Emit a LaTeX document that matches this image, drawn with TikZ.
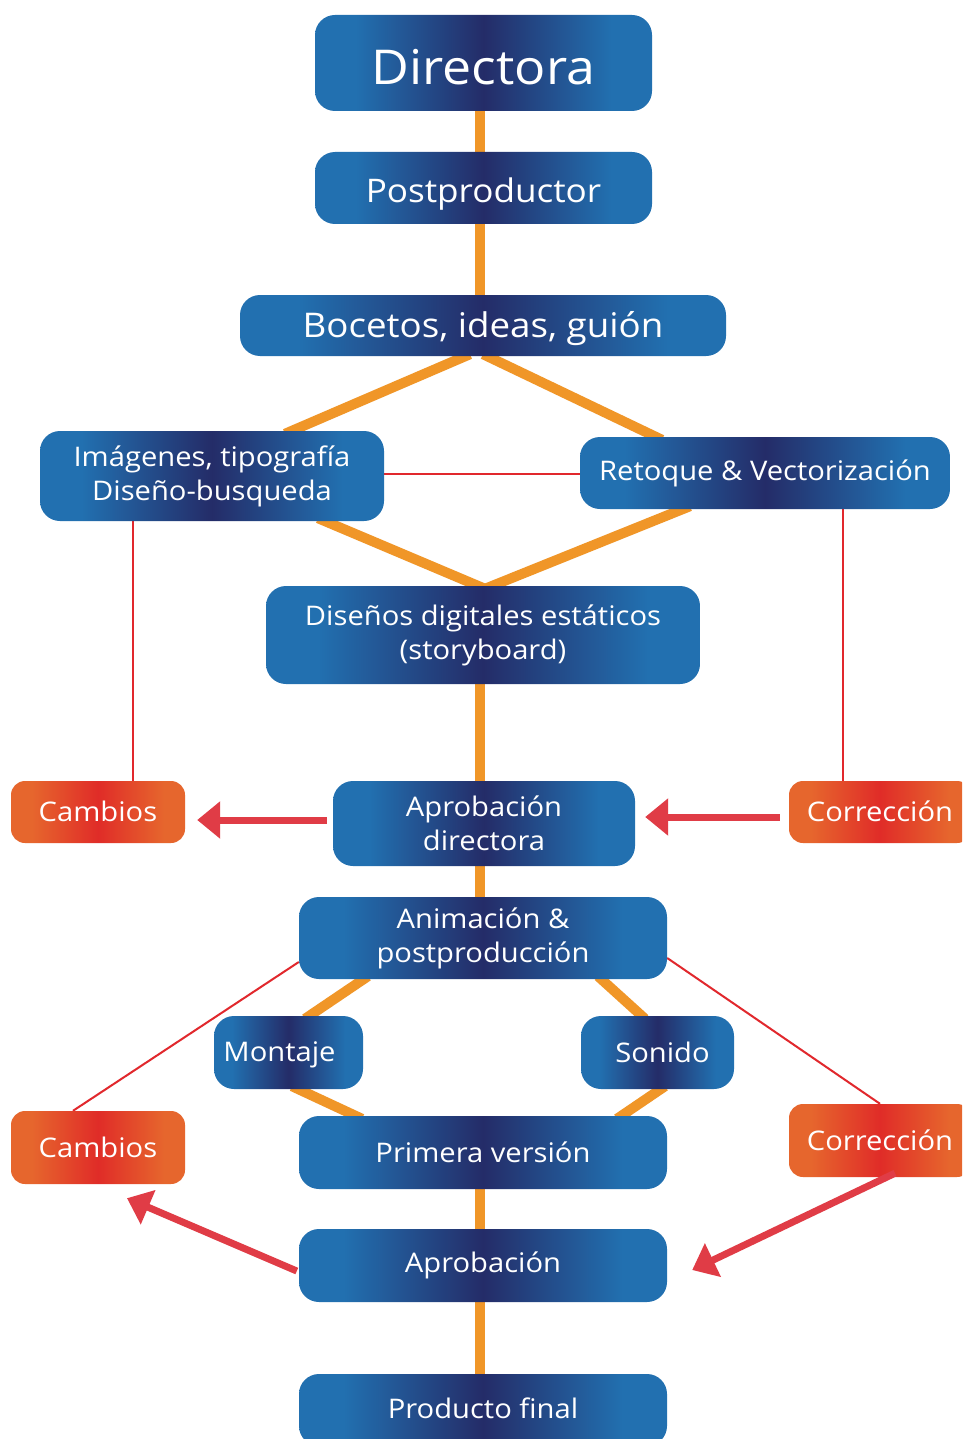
\documentclass[tikz,border=0pt]{standalone}
\usepackage{fontspec}
\setmainfont[FakeStretch=1.08]{Open Sans}
\usetikzlibrary{arrows.meta,backgrounds}
\definecolor{bl}{RGB}{34,112,176}
\definecolor{nv}{RGB}{36,44,104}
\definecolor{orc}{RGB}{230,102,45}
\definecolor{rdc}{RGB}{224,44,40}
\definecolor{lo}{RGB}{240,150,40}
\definecolor{lr}{RGB}{225,40,45}
\definecolor{ar}{RGB}{224,60,70}
\newcommand{\shifttxt}[2]{\raisebox{#1}[\height][\depth]{#2}}
\pgfdeclarehorizontalshading{boxshade}{100bp}{color(0bp)=(bl); color(25bp)=(bl); color(31bp)=(bl); color(50bp)=(nv); color(69bp)=(bl); color(75bp)=(bl); color(100bp)=(bl)}
\pgfdeclarehorizontalshading{orshade}{100bp}{color(0bp)=(orc); color(25bp)=(orc); color(31bp)=(orc); color(50bp)=(rdc); color(69bp)=(orc); color(75bp)=(orc); color(100bp)=(orc)}
\tikzset{
  bbox/.style={shading=boxshade, rounded corners=20pt, text=white, align=center, inner sep=0pt, font=\fontsize{27}{34}\selectfont},
  obox/.style={shading=orshade, rounded corners=14pt, text=white, align=center, inner sep=0pt, font=\fontsize{27}{34}\selectfont},
  oline/.style={draw=lo, line width=10pt},
  rline/.style={draw=lr, line width=2pt},
  rarrow/.style={draw=ar, line width=7pt, -{Triangle[length=23pt,width=36pt]}},
}
\begin{document}
\begin{tikzpicture}[x=1pt,y=-1pt]
\clip (0,0) rectangle (962,1439);
\useasboundingbox (0,0) rectangle (962,1439);
% nodes
\node[bbox, minimum width=337pt, minimum height=96pt, font=\fontsize{48}{54}\selectfont] (dir) at (483.5,63) {\shifttxt{-4pt}{Directora}};
\node[bbox, minimum width=337pt, minimum height=72pt, font=\fontsize{32.5}{38}\selectfont] (post) at (483.5,188) {\shifttxt{-6pt}{Postproductor}};
\node[bbox, minimum width=486pt, minimum height=61pt, font=\fontsize{34}{38}\selectfont] (boc) at (483,325.5) {\shifttxt{-3pt}{Bocetos, ideas, guión}};
\node[bbox, minimum width=344pt, minimum height=90pt] (img) at (212,476) {Imágenes, tipografía\\Diseño-busqueda};
\node[bbox, minimum width=370pt, minimum height=72pt] (ret) at (765,473) {Retoque \& Vectorización};
\node[bbox, minimum width=434pt, minimum height=98pt] (dis) at (483,635) {Diseños digitales estáticos\\(storyboard)};
\node[obox, minimum width=174pt, minimum height=62pt] (cam1) at (98,812) {\shifttxt{1pt}{Cambios}};
\node[bbox, minimum width=302pt, minimum height=85pt] (apd) at (484,823.5) {Aprobación\\directora};
\node[obox, minimum width=182pt, minimum height=62pt] (cor1) at (880,812) {\shifttxt{1pt}{Corrección}};
\node[bbox, minimum width=368pt, minimum height=82pt] (ani) at (483,938) {Animación \&\\postproducción};
\node[bbox, minimum width=149pt, minimum height=73pt] (mon) at (288.5,1052.5) {\shifttxt{-2pt}{Montaje}\hspace*{18pt}};
\node[bbox, minimum width=153pt, minimum height=73pt] (son) at (657.5,1052.5) {\hspace*{10pt}Sonido};
\node[obox, minimum width=174pt, minimum height=73pt] (cam2) at (98,1147.5) {Cambios};
\node[bbox, minimum width=368pt, minimum height=73pt] (pri) at (483,1152.5) {Primera versión};
\node[obox, minimum width=182pt, minimum height=73pt] (cor2) at (880,1140.5) {Corrección};
\node[bbox, minimum width=368pt, minimum height=73pt] (apr) at (483,1265.5) {Aprobación};
\node[bbox, minimum width=368pt, minimum height=72pt] (pro) at (483,1410) {\shifttxt{2pt}{Producto final}};
\begin{scope}[on background layer]
\fill[white] (0,0) rectangle (962,1439);
% orange connectors
\draw[oline] ([xshift=-3.5pt]dir.south) -- ([xshift=-3.5pt]post.north);
\draw[oline] ([xshift=-3.5pt]post.south) -- ([xshift=-3pt]boc.north |- boc.center);
\draw[oline] ([xshift=-13pt,yshift=2pt]boc.south) -- ([xshift=73pt,yshift=-3pt]img.north);
\draw[oline] ([xshift=0pt,yshift=2pt]boc.south) -- ([xshift=-103pt,yshift=-3pt]ret.north);
\draw[oline] ([xshift=106pt,yshift=3pt]img.south) -- ([xshift=2pt,yshift=-3pt]dis.north);
\draw[oline] ([xshift=-75pt,yshift=3pt]ret.south) -- ([xshift=2pt,yshift=-3pt]dis.north);
\draw[oline] ([xshift=-3pt]dis.south) -- ([xshift=-4pt]apd.north);
\draw[oline] ([xshift=-4pt]apd.south) -- ([xshift=-3pt]ani.north);
\draw[oline] ([xshift=-115pt,yshift=3pt]ani.south) -- ([xshift=16.5pt,yshift=-3pt]mon.north);
\draw[oline] ([xshift=115pt,yshift=3pt]ani.south) -- ([xshift=-12.5pt,yshift=-3pt]son.north);
\draw[oline] ([xshift=3.5pt,yshift=3pt]mon.south) -- ([xshift=-121pt,yshift=-3pt]pri.north);
\draw[oline] ([xshift=7.5pt,yshift=3pt]son.south) -- ([xshift=134pt,yshift=-3pt]pri.north);
\draw[oline] ([xshift=-3pt]pri.south) -- ([xshift=-3pt]apr.north);
\draw[oline] ([xshift=-3pt]apr.south) -- ([xshift=-3pt]pro.north);
% thin red connectors
\draw[rline] ([yshift=2pt]img.east) -- ([yshift=-1pt]ret.west);
\draw[rline] ([xshift=-79pt]img.south) -- ([xshift=35pt]cam1.north);
\draw[rline] ([xshift=78pt]ret.south) -- ([xshift=-37pt]cor1.north);
\draw[rline] ([yshift=-24pt]ani.west) -- ([xshift=-25pt]cam2.north);
\draw[rline] ([yshift=-20pt]ani.east) -- (cor2.north);
\end{scope}
% thick red arrows
\draw[rarrow] ([xshift=-6pt,yshift=3.5pt]apd.west) -- ([xshift=12pt,yshift=-8pt]cam1.east);
\draw[rarrow] ([xshift=-9pt,yshift=-5pt]cor1.west) -- ([xshift=10pt,yshift=6.5pt]apd.east);
\draw[rarrow] ([xshift=-2pt,yshift=-5.5pt]apr.west) -- ([xshift=29pt,yshift=-14pt]cam2.south);
\draw[rarrow] ([xshift=15pt,yshift=4pt]cor2.south) -- ([xshift=25pt,yshift=-4.5pt]apr.east);
\end{tikzpicture}
\end{document}
